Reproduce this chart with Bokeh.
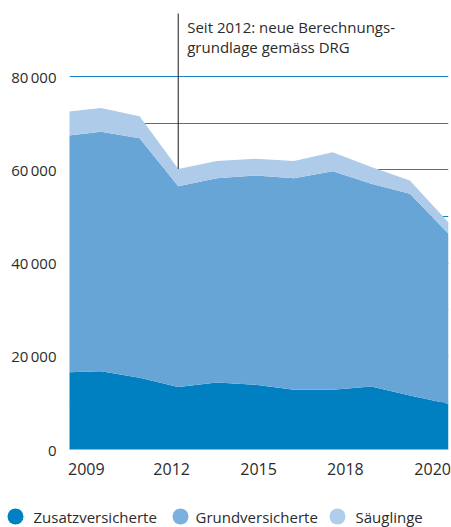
from bokeh.plotting import figure
from bokeh.models import Range1d, FixedTicker, Label, ColumnDataSource
from bokeh.layouts import column
from bokeh.embed import file_html
from bokeh.resources import INLINE
from bokeh.core.properties import value

# ---- data ----
years = [2009, 2010, 2011, 2012, 2013, 2014, 2015, 2016, 2017, 2018, 2019]
zusatz = [16500, 16800, 15400, 13400, 14400, 13900, 12800, 12800, 13500, 11600, 9800]
grund = [50700, 51400, 51400, 43100, 43800, 44900, 45400, 46900, 43500, 43300, 36500]
saeuglinge = [5200, 5100, 4700, 3700, 3700, 3600, 3700, 4100, 3600, 2800, 2400]
series_names = ["Zusatzversicherte", "Grundversicherte", "Säuglinge"]
colors = ["#0080c1", "#66a5d6", "#aecbe9"]
legend_colors = ["#0080c4", "#7ab1df", "#b0cdeb"]
y_ticks = [0, 20000, 40000, 60000, 80000]
grid_ticks = [0, 10000, 20000, 30000, 40000, 50000, 60000, 70000, 80000]
x_tick_labels = ["2009", "2012", "2015", "2018", "2020"]
note_year = 2012
note_lines = ["Seit 2012: neue Berechnungs-", "grundlage gemäss DRG"]

FONT = "Open Sans"
TEXT = "#2b2b2b"

src = ColumnDataSource(dict(year=years, Zusatzversicherte=zusatz,
                            Grundversicherte=grund, Säuglinge=saeuglinge))

p = figure(width=451, height=500, output_backend="svg", toolbar_location=None,
           x_range=Range1d(2009.184, 2019.0), y_range=Range1d(0, 96350),
           min_border_left=69, min_border_right=3, min_border_top=0, min_border_bottom=51)
p.frame_align = False
p.outline_line_color = None
p.background_fill_color = "white"

p.varea_stack(stackers=series_names, x="year", color=colors, source=src)

# grid
p.xgrid.visible = False
p.ygrid.ticker = FixedTicker(ticks=grid_ticks)
p.ygrid.grid_line_color = "#1583c6"
p.ygrid.grid_line_width = 1

# y axis
p.yaxis.ticker = FixedTicker(ticks=y_ticks)
p.yaxis.major_label_overrides = {t: (f"{t // 1000}\u2009000" if t else "0") for t in y_ticks}
p.yaxis.axis_line_color = None
p.yaxis.major_tick_line_color = None
p.yaxis.minor_tick_line_color = None
p.yaxis.major_tick_out = 0
p.yaxis.major_label_standoff = 13
p.yaxis.major_label_text_font = FONT
p.yaxis.major_label_text_font_size = "15px"
p.yaxis.major_label_text_color = TEXT

# x axis (evenly spaced labels as in the original)
x_tick_pos = [2009.62, 2011.83, 2014.08, 2016.33, 2018.59]
p.xaxis.ticker = FixedTicker(ticks=x_tick_pos)
p.xaxis.major_label_overrides = dict(zip(x_tick_pos, x_tick_labels))
p.xaxis.axis_line_color = "#86bce6"
p.xaxis.axis_line_width = 1
p.xaxis.major_tick_line_color = None
p.xaxis.minor_tick_line_color = None
p.xaxis.major_tick_out = 0
p.xaxis.major_label_standoff = 13
p.xaxis.major_label_text_font = FONT
p.xaxis.major_label_text_font_size = "16px"
p.xaxis.major_label_text_color = TEXT

# annotation line from stack top at 2012 upward
i = years.index(note_year)
top_val = zusatz[i] + grund[i] + saeuglinge[i]
p.segment(x0=[note_year], y0=[top_val], x1=[note_year], y1=[93560],
          line_color="#1a1a1a", line_width=1)
for txt, yv in zip(note_lines, [90620, 86270]):
    p.add_layout(Label(x=note_year, y=yv, x_offset=9, text=txt,
                       text_font=FONT, text_font_size="15px", text_color=TEXT,
                       text_baseline="alphabetic", text_align="left"))

# legend strip (its own small figure, coordinates = pixels)
lg = figure(width=451, height=27, output_backend="svg", toolbar_location=None,
            x_range=Range1d(0, 451), y_range=Range1d(0, 27),
            min_border_left=0, min_border_right=0, min_border_top=0, min_border_bottom=0)
lg.frame_align = False
lg.axis.visible = False
lg.grid.visible = False
lg.outline_line_color = None
circle_x = [15, 180, 337]
text_x = [33, 195, 355]
lg.scatter(x=circle_x, y=[11, 11, 11], size=16, fill_color=legend_colors, line_color=None)
lg.text(x=text_x, y=[11, 11, 11], text=series_names, text_font=value(FONT),
        text_font_size="15px", text_color=TEXT, text_baseline="middle", text_align="left")

layout = column(p, lg, spacing=0)
open("out.html", "w").write(file_html(layout, INLINE))
